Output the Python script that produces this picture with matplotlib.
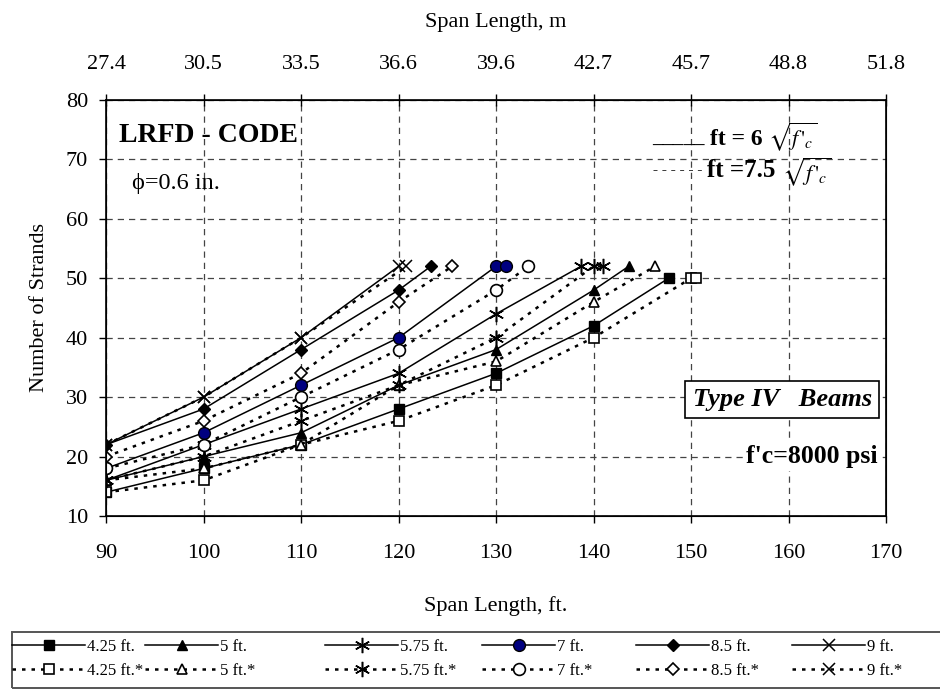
import matplotlib
matplotlib.use("Agg")
import matplotlib.pyplot as plt
from matplotlib.patches import Rectangle

plt.rcParams['font.family'] = ['Liberation Serif', 'DejaVu Serif']
plt.rcParams['mathtext.fontset'] = 'stix'

# ---- data ----
x_ticks = [90, 100, 110, 120, 130, 140, 150, 160, 170]
m_labels = ['27.4', '30.5', '33.5', '36.6', '39.6', '42.7', '45.7', '48.8', '51.8']
y_ticks = [10, 20, 30, 40, 50, 60, 70, 80]

labels = ['4.25 ft.', '5 ft.', '5.75 ft.', '7 ft.', '8.5 ft.', '9 ft.']

# solid series: ft = 6 sqrt(f'c)
s425_x = [90, 100, 110, 120, 130, 140, 147.7]
s425_y = [14, 18, 22, 28, 34, 42, 50]
s5_x = [90, 100, 110, 120, 130, 140, 143.6]
s5_y = [16, 20, 24, 32, 38, 48, 52]
s575_x = [90, 100, 110, 120, 130, 138.7]
s575_y = [16, 22, 28, 34, 44, 52]
s7_x = [90, 100, 110, 120, 130, 131]
s7_y = [18, 24, 32, 40, 52, 52]
s85_x = [90, 100, 110, 120, 123.3]
s85_y = [22, 28, 38, 48, 52]
s9_x = [90, 100, 110, 120]
s9_y = [22, 30, 40, 52]

# dotted series: ft = 7.5 sqrt(f'c)
d425_x = [90, 100, 110, 120, 130, 140, 150, 150.5]
d425_y = [14, 16, 22, 26, 32, 40, 50, 50]
d5_x = [90, 100, 110, 120, 130, 140, 146.3]
d5_y = [16, 18, 22, 32, 36, 46, 52]
d575_x = [90, 100, 110, 120, 130, 140, 141]
d575_y = [16, 20, 26, 32, 40, 52, 52]
d7_x = [90, 100, 110, 120, 130, 133.3]
d7_y = [18, 22, 30, 38, 48, 52]
d85_x = [90, 100, 110, 120, 125.5]
d85_y = [20, 26, 34, 46, 52]
d9_x = [90, 100, 110, 120.8]
d9_y = [22, 30, 40, 52]

solid = [(s425_x, s425_y), (s5_x, s5_y), (s575_x, s575_y),
         (s7_x, s7_y), (s85_x, s85_y), (s9_x, s9_y)]
dotted = [(d425_x, d425_y), (d5_x, d5_y), (d575_x, d575_y),
          (d7_x, d7_y), (d85_x, d85_y), (d9_x, d9_y)]

asterisk = (6, 2, 0)
s_styles = [dict(marker='s', ms=6.5, mfc='black'),
            dict(marker='^', ms=7.5, mfc='black'),
            dict(marker=asterisk, ms=11, mew=1.1),
            dict(marker='o', ms=8.5, mfc='#000080'),
            dict(marker='D', ms=6.5, mfc='black'),
            dict(marker='x', ms=9, mew=1.1)]
d_styles = [dict(marker='s', ms=6.5, mfc='white', mew=1.2),
            dict(marker='^', ms=7.5, mfc='white', mew=1.2),
            dict(marker=asterisk, ms=11, mew=1.1),
            dict(marker='o', ms=8.5, mfc='white', mew=1.2),
            dict(marker='D', ms=6.5, mfc='white', mew=1.2),
            dict(marker='x', ms=9, mew=1.1)]

fig = plt.figure(figsize=(9.4, 6.9), dpi=100)
ax = fig.add_axes([0.1128, 0.2522, 0.8298, 0.6029])

handles = []
for i in range(6):
    hs, = ax.plot(solid[i][0], solid[i][1], color='black', lw=1.1, mec='black',
                  label=labels[i], zorder=3, **s_styles[i])
    hd, = ax.plot(dotted[i][0], dotted[i][1], color='black', lw=1.8,
                  linestyle=(0, (1.4, 2.4)), mec='black',
                  label=labels[i] + '*', zorder=3, **d_styles[i])
    handles.append((hs, hd))

ax.set_xlim(90, 170)
ax.set_ylim(10, 80)
ax.set_xticks(x_ticks)
ax.set_yticks(y_ticks)
ax.grid(True, color='#444444', linestyle=(0, (5, 4)), lw=0.9)
ax.tick_params(direction='out', length=5, width=1, labelsize=16)
ax.tick_params(axis='x', pad=15)
ax.tick_params(axis='y', pad=8)
for sp in ax.spines.values():
    sp.set_linewidth(1.2)
ax.set_xlabel('Span Length, ft.', fontsize=16, labelpad=24)
ax.set_ylabel('Number of Strands', fontsize=16, labelpad=12)

ax2 = ax.twiny()
ax2.set_xlim(ax.get_xlim())
ax2.set_xticks(x_ticks)
ax2.set_xticklabels(m_labels)
ax2.tick_params(direction='inout', length=8, width=1, labelsize=16, pad=15)
ax2.set_xlabel('Span Length, m', fontsize=16, labelpad=20)

# annotations
tr = ax.transAxes
ax.text(0.016, 0.915, 'LRFD - CODE', transform=tr, fontsize=20,
        fontweight='bold', va='center', ha='left')
ax.text(0.033, 0.80, '\u03d5=0.6 in.', transform=tr, fontsize=17.5,
        va='center', ha='left')
# in-plot key for the two allowable tension limits
ax.text(0.700, 0.897, '_____', transform=tr, fontsize=15,
        fontweight='bold', va='baseline', ha='left')
ax.text(0.774, 0.892, 'ft = 6', transform=tr, fontsize=17,
        fontweight='bold', va='baseline', ha='left')
ax.text(0.849, 0.892, r"$\sqrt{f\,'_{c}}$", transform=tr, fontsize=16,
        va='baseline', ha='left')
ax.text(0.701, 0.821, '- - - - - -', transform=tr, fontsize=11,
        fontweight='bold', va='baseline', ha='left')
ax.text(0.770, 0.816, 'ft =7.5', transform=tr, fontsize=18,
        fontweight='bold', va='baseline', ha='left')
ax.text(0.866, 0.808, r"$\sqrt{f\,'_{c}}$", transform=tr, fontsize=16,
        va='baseline', ha='left')
ax.text(0.752, 0.28, 'Type IV   Beams', transform=tr, fontsize=19,
        fontweight='bold', fontstyle='italic', va='center', ha='left',
        bbox=dict(boxstyle='square,pad=0.27', fc='white', ec='black', lw=1.2))
ax.text(0.82, 0.143, "f'c=8000 psi", transform=tr, fontsize=18.5,
        fontweight='bold', va='center', ha='left',
        bbox=dict(boxstyle='square,pad=0.1', fc='white', ec='none'))

# legend: one column per beam spacing, framed by a shared box
col_x = [12, 145, 325, 482, 636, 792]
for i in range(6):
    lg = fig.legend(handles=list(handles[i]), loc='upper left',
                    bbox_to_anchor=(col_x[i] / 940, 1 - 639 / 690),
                    fontsize=12, frameon=False, handlelength=4.4,
                    handletextpad=0.1, borderaxespad=0, borderpad=0,
                    labelspacing=0.5)
fig.patches.append(Rectangle((12 / 940, 1 - 688 / 690), 1.0, (688 - 632) / 690,
                             transform=fig.transFigure, fill=False,
                             edgecolor='#555555', lw=1.4))

fig.savefig('out.png', dpi=100)
